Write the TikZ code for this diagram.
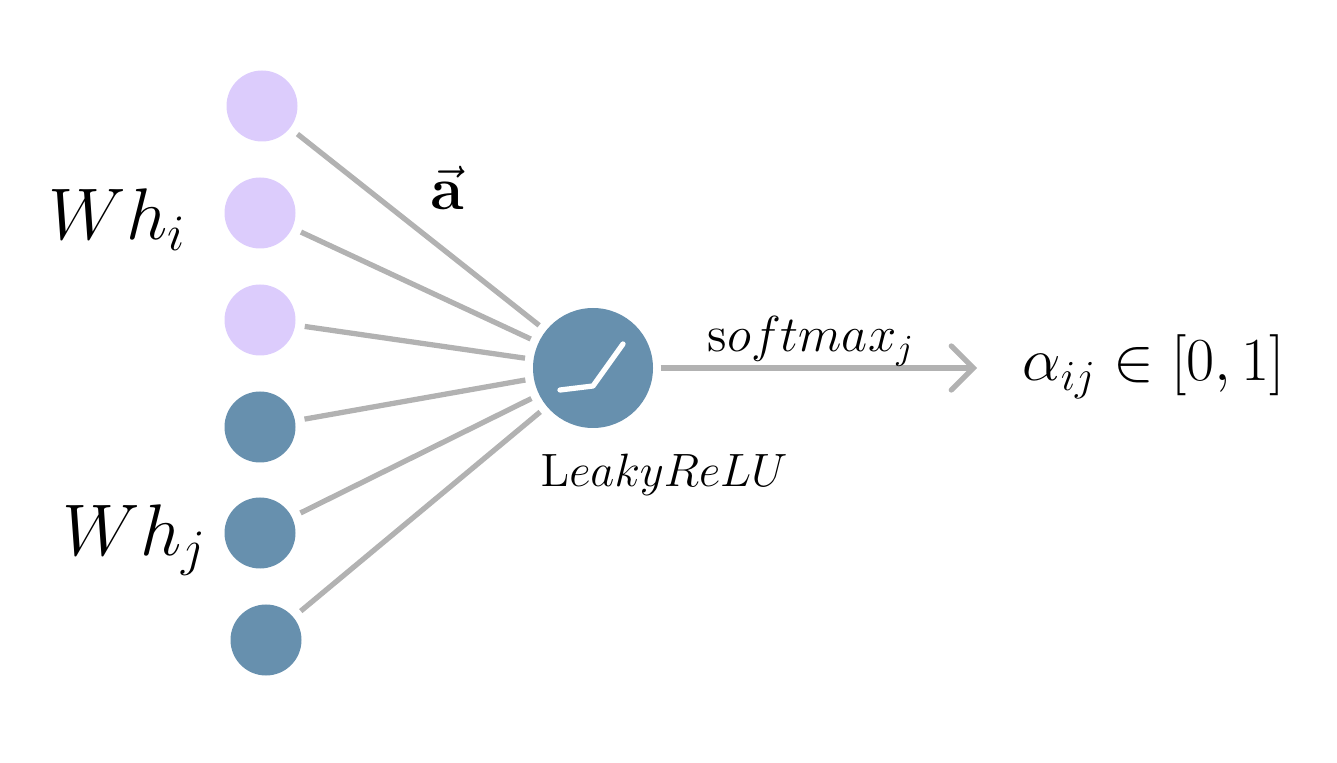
\RequirePackage{fix-cm}
\documentclass[tikz,border=0pt]{standalone}
\usepackage{tikz}
\usepackage{amsmath}
\usetikzlibrary{arrows.meta}

\definecolor{lilac}{RGB}{220,204,252}
\definecolor{steel}{RGB}{103,144,174}
\definecolor{edgegray}{RGB}{178,178,178}

\begin{document}
\begin{tikzpicture}[
    unit/.style={circle, minimum size=0.71cm, inner sep=0pt},
    wi/.style={unit, fill=lilac},
    wj/.style={unit, fill=steel},
    weight/.style={draw=edgegray, line width=1.5pt, shorten <=0.09cm, shorten >=0.08cm},
    lbl/.style={inner sep=0pt}
  ]
      \useasboundingbox (0,0) rectangle (13.37,-7.63);

      \node[wi] (i1) at (2.62,-1.06) {};
      \node[wi] (i2) at (2.60,-2.13) {};
      \node[wi] (i3) at (2.60,-3.20) {};
      \node[wj] (j1) at (2.60,-4.27) {};
      \node[wj] (j2) at (2.60,-5.33) {};
      \node[wj] (j3) at (2.66,-6.40) {};

      \node[circle, fill=steel, minimum size=1.2cm, inner sep=0pt] (act) at (5.93,-3.68) {};
      \draw[white, line width=1.5pt, line cap=round, line join=round]
        ([shift={(-0.33,-0.22)}]act.center) -- ([shift={(0.00,-0.18)}]act.center) -- ([shift={(0.30,0.24)}]act.center);

      \foreach \n in {i1,i2,i3,j1,j2,j3}
        \draw[weight] (\n) -- (act);

      \coordinate (tip) at (9.77,-3.68);
      \draw[draw=edgegray, line width=1.5pt, shorten <=0.07cm,
        -{Straight Barb[length=0.22cm, width=0.44cm, line cap=round]}] (act) -- (tip);

      \node[lbl, anchor=base west] (whi) at (0.48,-2.40) {\fontsize{20.8}{25}\selectfont $Wh_i$};
      \node[lbl, anchor=base west] (whj) at (0.62,-5.55) {\fontsize{20.8}{25}\selectfont $Wh_j$};
      \node[lbl, anchor=base] (avec) at (4.47,-2.10) {\fontsize{17.3}{21}\selectfont $\vec{\mathbf{a}}$};

      \node[lbl, anchor=base west] (soft) at (7.07,-3.52) {\fontsize{14.4}{17}\selectfont $\mathrm{s}oftmax_j$};
      \node[lbl, anchor=base west] (leaky) at (5.40,-4.87) {\fontsize{13.3}{16}\selectfont $\mathrm{L}eakyReLU$};

      \node[lbl, anchor=base west] (alpha) at (10.22,-3.81) {\fontsize{17.4}{21}\selectfont $\alpha_{ij} \in [0,1]$};

    \end{tikzpicture}
\end{document}
